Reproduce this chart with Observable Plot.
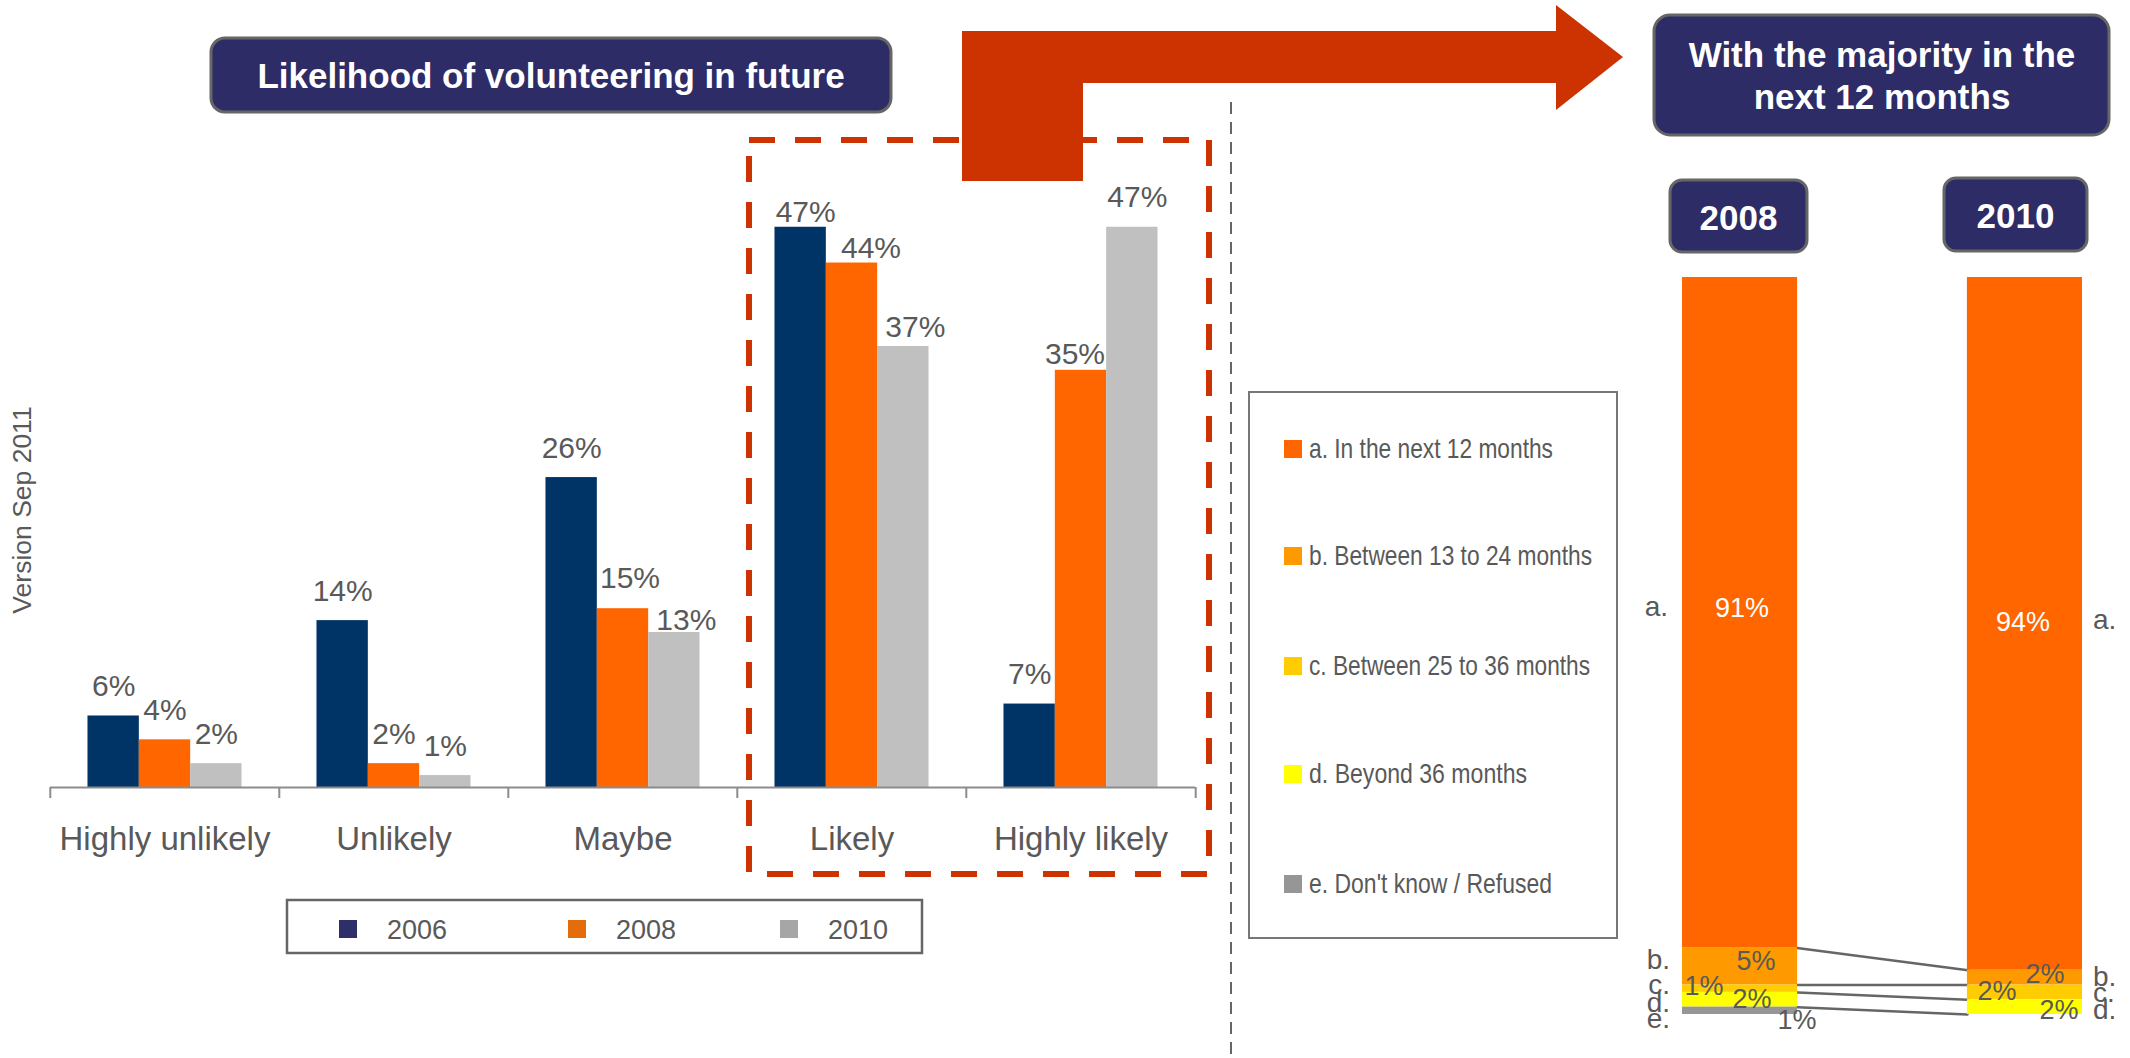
<!DOCTYPE html>
<html>
<head>
<meta charset="utf-8">
<script src="https://cdn.jsdelivr.net/npm/d3@7"></script>
<script src="https://cdn.jsdelivr.net/npm/@observablehq/plot@0.6"></script>
<style>
  html, body { margin: 0; padding: 0; background: #fff; overflow: hidden; }
  #page { position: relative; width: 2130px; height: 1058px; background: #fff; font-family: 'Liberation Sans', Arial, sans-serif; }
  #c1 { position: absolute; left: 0; top: 100px; width: 1230px; height: 780px; }
  #c2 { position: absolute; left: 1620px; top: 260px; width: 510px; height: 798px; }
  #ov { position: absolute; left: 0; top: 0; pointer-events: none; }
  .narrow { font-family: 'Liberation Sans Narrow', 'Arial Narrow', 'Liberation Sans', Arial, sans-serif; }
</style>
</head>
<body>
<div id="page">
  <div id="c1"></div>
  <div id="c2"></div>
  <svg id="ov" width="2130" height="1058" xmlns="http://www.w3.org/2000/svg">
    <!-- red dashed highlight around Likely / Highly likely -->
    <rect x="749" y="140" width="460" height="734" fill="none" stroke="#CC3300" stroke-width="6" stroke-dasharray="26 20"/>
    <!-- gray dashed divider -->
    <line x1="1231" y1="102" x2="1231" y2="1058" stroke="#666" stroke-width="2" stroke-dasharray="12 8"/>
    <!-- bent arrow -->
    <polygon points="962,31 1556,31 1556,5 1623,57 1556,110 1556,83 1083,83 1083,181 962,181" fill="#CC3300"/>
    <!-- title box left -->
    <rect x="211" y="38" width="680" height="74" rx="14" fill="#2E2C66" stroke="#666" stroke-width="3"/>
    <text x="551" y="88" text-anchor="middle" fill="#fff" font-size="35" font-weight="bold">Likelihood of volunteering in future</text>
    <!-- title box right -->
    <rect x="1654" y="15" width="455" height="120" rx="16" fill="#2E2C66" stroke="#666" stroke-width="3"/>
    <text x="1882" y="67" text-anchor="middle" fill="#fff" font-size="35" font-weight="bold">With the majority in the</text>
    <text x="1882" y="109" text-anchor="middle" fill="#fff" font-size="35" font-weight="bold">next 12 months</text>
    <!-- year boxes -->
    <rect x="1670" y="180" width="137" height="72" rx="12" fill="#2E2C66" stroke="#666" stroke-width="3"/>
    <text x="1738.5" y="230" text-anchor="middle" fill="#fff" font-size="35" font-weight="bold">2008</text>
    <rect x="1944" y="178" width="143" height="73" rx="12" fill="#2E2C66" stroke="#666" stroke-width="3"/>
    <text x="2015.5" y="228" text-anchor="middle" fill="#fff" font-size="35" font-weight="bold">2010</text>
    <!-- version note -->
    <text transform="translate(31,510) rotate(-90)" text-anchor="middle" fill="#595959" font-size="26.5">Version Sep 2011</text>
    <!-- left legend -->
    <g id="legend1"></g>
    <!-- right legend -->
    <g id="legend2"></g>
  </svg>
</div>
<script>
// ---------- data: left chart ----------
const categories = ["Highly unlikely", "Unlikely", "Maybe", "Likely", "Highly likely"];
const years = ["2006", "2008", "2010"];
const share2006 = [6, 14, 26, 47, 7];
const share2008 = [4, 2, 15, 44, 35];
const share2010 = [2, 1, 13, 37, 47];
const yearColors = ["#003366", "#FF6600", "#C0C0C0"];
const yearLegendColors = ["#2E2E6B", "#E46C0A", "#A6A6A6"];

// ---------- data: right chart ----------
const periods = ["a", "b", "c", "d", "e"];
const periodLabels = ["a. In the next 12 months", "b. Between 13 to 24 months", "c. Between 25 to 36 months", "d. Beyond 36 months", "e. Don't know / Refused"];
const waves = ["2008", "2010"];
const timing2008 = [91, 5, 1, 2, 1];
const timing2010 = [94, 2, 2, 2, 0];
const periodColors = ["#FF6600", "#FF9900", "#FFCC00", "#FFFF00", "#969696"];

const GRAY = "#595959";
const FONT = "'Liberation Sans', Arial, sans-serif";

// ---------- left chart ----------
const likelihood = categories.flatMap((cat, i) =>
  years.map((year, j) => ({cat, year, value: [share2006, share2008, share2010][j][i]})));

const W1 = 1230, ML1 = 49, MR1 = 34;
const FX_BAND = (W1 - ML1 - MR1) / categories.length;

// label placement nudges (dx, dy) as laid out in the original slide
const nudge1 = {
  "Maybe|2008": [7, -21], "Maybe|2010": [12, -3],
  "Likely|2006": [5, -5], "Likely|2008": [19, -5], "Likely|2010": [12, -9],
  "Highly likely|2008": [-6, -6], "Highly likely|2010": [5, -20]
};
function groupedTextMarks(data, keyOf, nudges, fallback, build) {
  const groups = new Map();
  for (const d of data) {
    const k = keyOf(d);
    const n = nudges[k] || fallback;
    if (!n) continue;
    const g = n.join(",");
    if (!groups.has(g)) groups.set(g, {n, keys: new Set()});
    groups.get(g).keys.add(k);
  }
  return [...groups.values()].map(({n, keys}) => build(n, d => keys.has(keyOf(d))));
}

const labels1 = groupedTextMarks(likelihood, d => d.cat + "|" + d.year, nudge1, [0, -20], ([dx, dy], has) =>
  Plot.text(likelihood, {
    fx: "cat", x: "year", y: "value",
    text: d => has(d) ? d.value + "%" : null,
    dx, dy, lineAnchor: "bottom", fontSize: 30, fill: GRAY
  }));

const chart1 = Plot.plot({
  width: W1, height: 780,
  marginLeft: ML1, marginRight: MR1, marginTop: 91, marginBottom: 93,
  style: {fontFamily: FONT, fontSize: "33px", color: GRAY, background: "transparent", overflow: "visible"},
  fx: {domain: categories, padding: 0, label: null, axis: "bottom", tickSize: 0, tickPadding: 39},
  x: {domain: years, paddingInner: 0, paddingOuter: 0.73, round: false, axis: null},
  y: {domain: [0, 50], axis: null},
  color: {domain: years, range: yearColors},
  marks: [
    Plot.barY(likelihood, {fx: "cat", x: "year", y: "value", fill: "year"}),
    Plot.ruleY([0], {stroke: "#8C8C8C", strokeWidth: 2}),
    Plot.ruleX(categories, {fx: d => d, x: null, y1: 0, y2: 0, insetBottom: -11, dx: -FX_BAND / 2, stroke: "#8C8C8C", strokeWidth: 2}),
    Plot.ruleX(categories.slice(-1), {fx: d => d, x: null, y1: 0, y2: 0, insetBottom: -11, dx: FX_BAND / 2, stroke: "#8C8C8C", strokeWidth: 2}),
    ...labels1
  ]
});
document.getElementById("c1").appendChild(chart1);

// ---------- right chart ----------
const timing = waves.flatMap((wave, j) =>
  periods.map((cat, i) => ({wave, cat, value: [timing2008, timing2010][j][i]})));
const stackOrder = periods.slice().reverse();

const W2 = 510, ML2 = 62, MR2 = 48;
const PAD_IN2 = 0.596;
const step2 = (W2 - ML2 - MR2) / (waves.length - PAD_IN2);
const band2 = step2 * (1 - PAD_IN2);
const k2 = (band2 / 2) / (step2 - band2);

// connector lines between segment boundaries of the two bars
const connectors = periods.slice(0, -1).map((p, i) => ({
  from: d3.sum(timing2008.slice(i + 1)),
  to: d3.sum(timing2010.slice(i + 1))
}));

const nudgeValue = {
  "2008|a": [2, -4], "2008|b": [16, -5], "2008|c": [-36, -2], "2008|d": [12, 0], "2008|e": [57, 10],
  "2010|a": [-2, -2], "2010|b": [20, -3], "2010|c": [-28, -1], "2010|d": [34, 3]
};
const nudgeLetter = {
  "2008|a": [-72, -6], "2008|b": [-70, -7], "2008|c": [-70, -4], "2008|d": [-70, 3], "2008|e": [-70, 8],
  "2010|a": [68, -4], "2010|b": [68, -1], "2010|c": [68, 1], "2010|d": [68, 3]
};
const keyT = d => d.wave + "|" + d.cat;

const valueMarks = groupedTextMarks(timing.filter(d => d.value > 0), keyT, nudgeValue, null, ([dx, dy], has) =>
  Plot.text(timing, Plot.stackY({
    x: "wave", y: "value", z: "cat", order: stackOrder,
    text: d => has(d) && d.value > 0 ? d.value + "%" : null,
    fill: d => d.cat === "a" ? "#FFFFFF" : GRAY,
    dx, dy, fontSize: 27
  })));
const letterMarks = groupedTextMarks(timing.filter(d => d.value > 0), keyT, nudgeLetter, null, ([dx, dy], has) =>
  Plot.text(timing, Plot.stackY({
    x: "wave", y: "value", z: "cat", order: stackOrder,
    text: d => has(d) && d.value > 0 ? d.cat + "." : null,
    textAnchor: dx < 0 ? "end" : "start",
    fill: GRAY, dx, dy, fontSize: 28
  })));

const chart2 = Plot.plot({
  width: W2, height: 798,
  marginLeft: ML2, marginRight: MR2, marginTop: 17, marginBottom: 44,
  style: {fontFamily: FONT, fontSize: "27px", color: GRAY, background: "transparent", overflow: "visible"},
  x: {domain: waves, paddingInner: PAD_IN2, paddingOuter: 0, round: false, axis: null},
  y: {domain: [0, 100], axis: null},
  color: {domain: periods, range: periodColors},
  marks: [
    Plot.arrow(connectors, {
      x1: () => waves[0], x2: () => waves[1],
      y1: d => d.from - (d.to - d.from) * k2,
      y2: d => d.to + (d.to - d.from) * k2,
      insetStart: band2 / 2, insetEnd: band2 / 2,
      headLength: 0, stroke: "#666666", strokeWidth: 2.5
    }),
    Plot.barY(timing, {x: "wave", y: "value", fill: "cat", order: stackOrder}),
    ...valueMarks,
    ...letterMarks
  ]
});
document.getElementById("c2").appendChild(chart2);

// ---------- legends ----------
const NS = "http://www.w3.org/2000/svg";
function el(parent, tag, attrs, text) {
  const e = document.createElementNS(NS, tag);
  for (const [k, v] of Object.entries(attrs)) e.setAttribute(k, v);
  if (text != null) e.textContent = text;
  parent.appendChild(e);
  return e;
}
const lg1 = document.getElementById("legend1");
el(lg1, "rect", {x: 287, y: 900, width: 635, height: 53, fill: "#fff", stroke: "#666", "stroke-width": 2.5});
const lg1x = [339, 568, 780];
years.forEach((y, i) => {
  el(lg1, "rect", {x: lg1x[i], y: 920, width: 18, height: 18, fill: yearLegendColors[i]});
  el(lg1, "text", {x: lg1x[i] + 48, y: 939, "font-size": 27, fill: GRAY}, y);
});

const lg2 = document.getElementById("legend2");
el(lg2, "rect", {x: 1249, y: 392, width: 368, height: 546, fill: "none", stroke: "#777", "stroke-width": 2});
const lg2y = [440, 547, 657, 765, 875];
const lg2w = [244, 283, 281, 218, 243];
periodLabels.forEach((t, i) => {
  el(lg2, "rect", {x: 1284, y: lg2y[i], width: 18, height: 18, fill: periodColors[i]});
  el(lg2, "text", {x: 1309, y: lg2y[i] + 18, "font-size": 28, fill: GRAY, class: "narrow",
    textLength: lg2w[i], lengthAdjust: "spacingAndGlyphs"}, t);
});
</script>
</body>
</html>
